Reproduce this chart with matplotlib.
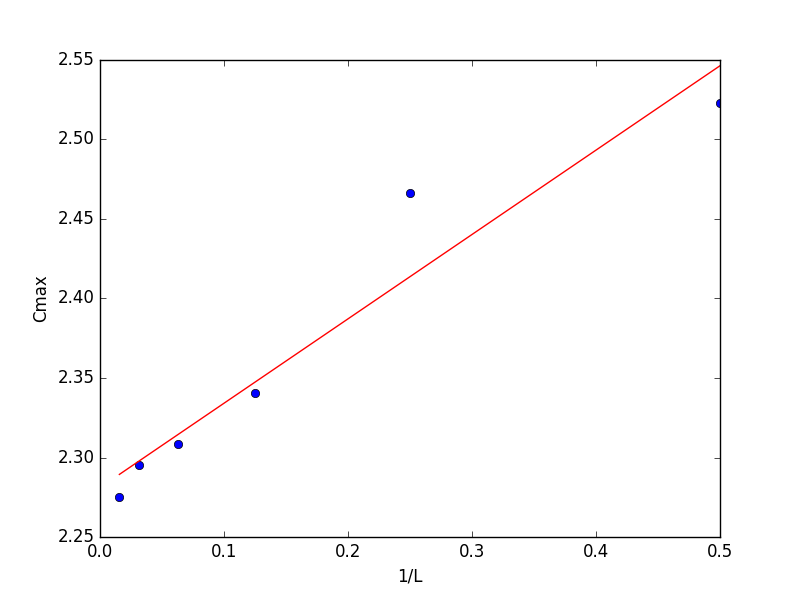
import matplotlib
matplotlib.use('Agg')
import matplotlib.pyplot as plt

plt.style.use('classic')

# 1/L values and measured Cmax
inv_L = [1/64, 1/32, 1/16, 1/8, 1/4, 1/2]
cmax = [2.2756, 2.2956, 2.3087, 2.3406, 2.4662, 2.5226]

# linear fit line end points
fit_x = [1/64, 1/2]
fit_y = [2.2895, 2.5462]

fig = plt.figure(figsize=(8, 5.97), dpi=100)
ax = fig.add_subplot(111)
ax.plot(inv_L, cmax, 'bo')
ax.plot(fit_x, fit_y, 'r-')
ax.set_xlim(0, 0.5)
ax.set_ylim(2.25, 2.55)
ax.set_xlabel('1/L')
ax.set_ylabel('Cmax')
fig.savefig('out.png', dpi=100, facecolor='white')
